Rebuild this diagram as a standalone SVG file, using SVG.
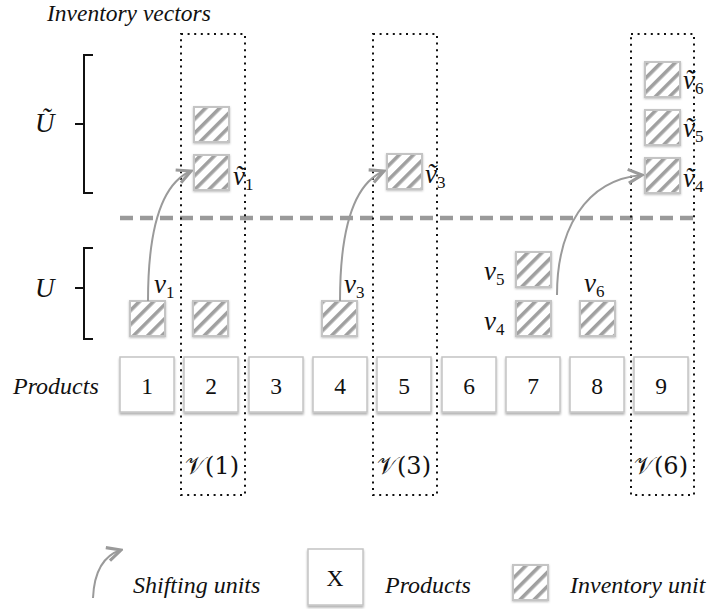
<svg xmlns="http://www.w3.org/2000/svg" width="710" height="609" viewBox="0 0 710 609">
<style>
.t{font-family:'Liberation Serif','Times New Roman','DejaVu Serif',serif;font-size:24px;font-style:italic;fill:#111}
.num{font-family:'Liberation Serif','Times New Roman','DejaVu Serif',serif;font-size:23.5px;fill:#111;text-anchor:middle}
.m{font-family:'Liberation Serif','Times New Roman','DejaVu Serif',serif;font-style:italic;font-size:27px;fill:#111}
.sub{font-style:normal;font-size:17px}
.cal{font-family:'DejaVu Serif','Liberation Serif',serif;font-size:24px;fill:#111;text-anchor:middle}
.box{fill:#fff;stroke:#c4c4c4;stroke-width:1.5;filter:url(#sh)}
.unit{fill:url(#hatch);stroke:#c4c4c4;stroke-width:2;filter:url(#sh2)}
.dot{fill:none;stroke:#111;stroke-width:2;stroke-dasharray:2 4.6}
.br{fill:none;stroke:#111;stroke-width:2}
.arr{fill:none;stroke:#9a9a9a;stroke-width:2;marker-end:url(#ah)}
</style>
<defs>
<pattern id="hatch" patternUnits="userSpaceOnUse" width="10" height="10" patternTransform="rotate(45)">
<rect width="10" height="10" fill="#fff"/>
<rect x="0" y="0" width="3.6" height="10" fill="#a0a0a0"/>
</pattern>
<filter id="sh" x="-10%" y="-10%" width="120%" height="130%">
<feDropShadow dx="0" dy="2" stdDeviation="1" flood-color="#000" flood-opacity="0.3"/>
</filter>
<filter id="sh2" x="-10%" y="-10%" width="120%" height="130%">
<feDropShadow dx="0" dy="1" stdDeviation="0.8" flood-color="#000" flood-opacity="0.25"/>
</filter>
<marker id="ah" markerUnits="userSpaceOnUse" markerWidth="20" markerHeight="20" refX="0" refY="0" viewBox="-14 -8 16 16" orient="auto">
<path d="M-11,-5.5 L0,0 L-11,5.5" fill="none" stroke="#9a9a9a" stroke-width="2.5"/>
</marker>
</defs>

<text class="t" x="47" y="21" style="font-size:23.5px">Inventory vectors</text>

<g id="brackets">
<path class="br" d="M93,55 H84 V193 H93 M75,124 H84"/>
<path class="br" d="M93,248 H84 V339 H93 M75,288 H84"/>
<text class="m" x="35" y="132">Ũ</text>
<text class="m" x="35" y="297">U</text>
</g>

<g id="separator">
<line x1="120" y1="218" x2="697" y2="218" stroke="#9a9a9a" stroke-width="4.5" stroke-dasharray="13 7"/>
</g>

<g id="products">
<text class="t" x="13" y="394">Products</text>
<g id="p1"><rect class="box" x="120" y="357" width="54" height="55"/><text class="num" x="147" y="394">1</text></g>
<g id="p2"><rect class="box" x="184" y="357" width="54" height="55"/><text class="num" x="211" y="394">2</text></g>
<g id="p3"><rect class="box" x="249" y="357" width="54" height="55"/><text class="num" x="276" y="394">3</text></g>
<g id="p4"><rect class="box" x="313" y="357" width="54" height="55"/><text class="num" x="340" y="394">4</text></g>
<g id="p5"><rect class="box" x="377" y="357" width="54" height="55"/><text class="num" x="404" y="394">5</text></g>
<g id="p6"><rect class="box" x="442" y="357" width="54" height="55"/><text class="num" x="469" y="394">6</text></g>
<g id="p7"><rect class="box" x="506" y="357" width="54" height="55"/><text class="num" x="533" y="394">7</text></g>
<g id="p8"><rect class="box" x="570" y="357" width="54" height="55"/><text class="num" x="597" y="394">8</text></g>
<g id="p9"><rect class="box" x="634" y="357" width="54" height="55"/><text class="num" x="661" y="394">9</text></g>
</g>

<g id="units">
<g id="u-v1"><rect class="unit" x="130" y="301" width="35" height="35"/><text class="m" x="154" y="293">v<tspan class="sub" dy="5">1</tspan></text></g>
<g id="u-c2"><rect class="unit" x="193" y="301" width="35" height="35"/></g>
<g id="u-v3"><rect class="unit" x="322" y="301" width="35" height="35"/><text class="m" x="344" y="293">v<tspan class="sub" dy="5">3</tspan></text></g>
<g id="u-v5"><rect class="unit" x="516" y="252" width="35" height="35"/><text class="m" x="484" y="280">v<tspan class="sub" dy="5">5</tspan></text></g>
<g id="u-v4"><rect class="unit" x="516" y="301" width="35" height="35"/><text class="m" x="484" y="330">v<tspan class="sub" dy="5">4</tspan></text></g>
<g id="u-v6"><rect class="unit" x="580" y="301" width="35" height="35"/><text class="m" x="584" y="292">v<tspan class="sub" dy="5">6</tspan></text></g>
<g id="u-c2top"><rect class="unit" x="194" y="107" width="35" height="35"/></g>
<g id="u-tv1"><rect class="unit" x="194" y="155" width="35" height="35"/><text class="m" x="233" y="185">ṽ<tspan class="sub" dy="5">1</tspan></text></g>
<g id="u-tv3"><rect class="unit" x="387" y="154" width="35" height="35"/><text class="m" x="425" y="183">ṽ<tspan class="sub" dy="5">3</tspan></text></g>
<g id="u-tv4"><rect class="unit" x="645" y="158" width="35" height="35"/><text class="m" x="683" y="187">ṽ<tspan class="sub" dy="5">4</tspan></text></g>
<g id="u-tv5"><rect class="unit" x="645" y="110" width="35" height="35"/><text class="m" x="683" y="137">ṽ<tspan class="sub" dy="5">5</tspan></text></g>
<g id="u-tv6"><rect class="unit" x="645" y="62" width="35" height="35"/><text class="m" x="683" y="89">ṽ<tspan class="sub" dy="5">6</tspan></text></g>
</g>

<g id="sets">
<g id="V1"><rect class="dot" x="181" y="34" width="64" height="461"/><text class="cal" x="212" y="474">𝒱(1)</text></g>
<g id="V3"><rect class="dot" x="373" y="34" width="64" height="461"/><text class="cal" x="404" y="474">𝒱(3)</text></g>
<g id="V6"><rect class="dot" x="631" y="34" width="63" height="461"/><text class="cal" x="661" y="474">𝒱(6)</text></g>
</g>

<g id="connectors">
<path class="arr" d="M148,301 C148,240 158,185 191,171"/>
<path class="arr" d="M340,301 C340,240 350,185 384,171"/>
<path class="arr" d="M557,295 C557,230 585,180 642,175"/>
</g>

<g id="legend">
<g id="lg-arrow"><path class="arr" d="M93,598 C94,575 102,556 121,550"/><text class="t" x="133" y="593">Shifting units</text></g>
<g id="lg-product"><rect class="box" x="308" y="549" width="55" height="56"/><text class="num" x="335" y="586">X</text><text class="t" x="385" y="593">Products</text></g>
<g id="lg-unit"><rect class="unit" x="513" y="565" width="35" height="35"/><text class="t" x="570" y="593">Inventory unit</text></g>
</g>
</svg>
